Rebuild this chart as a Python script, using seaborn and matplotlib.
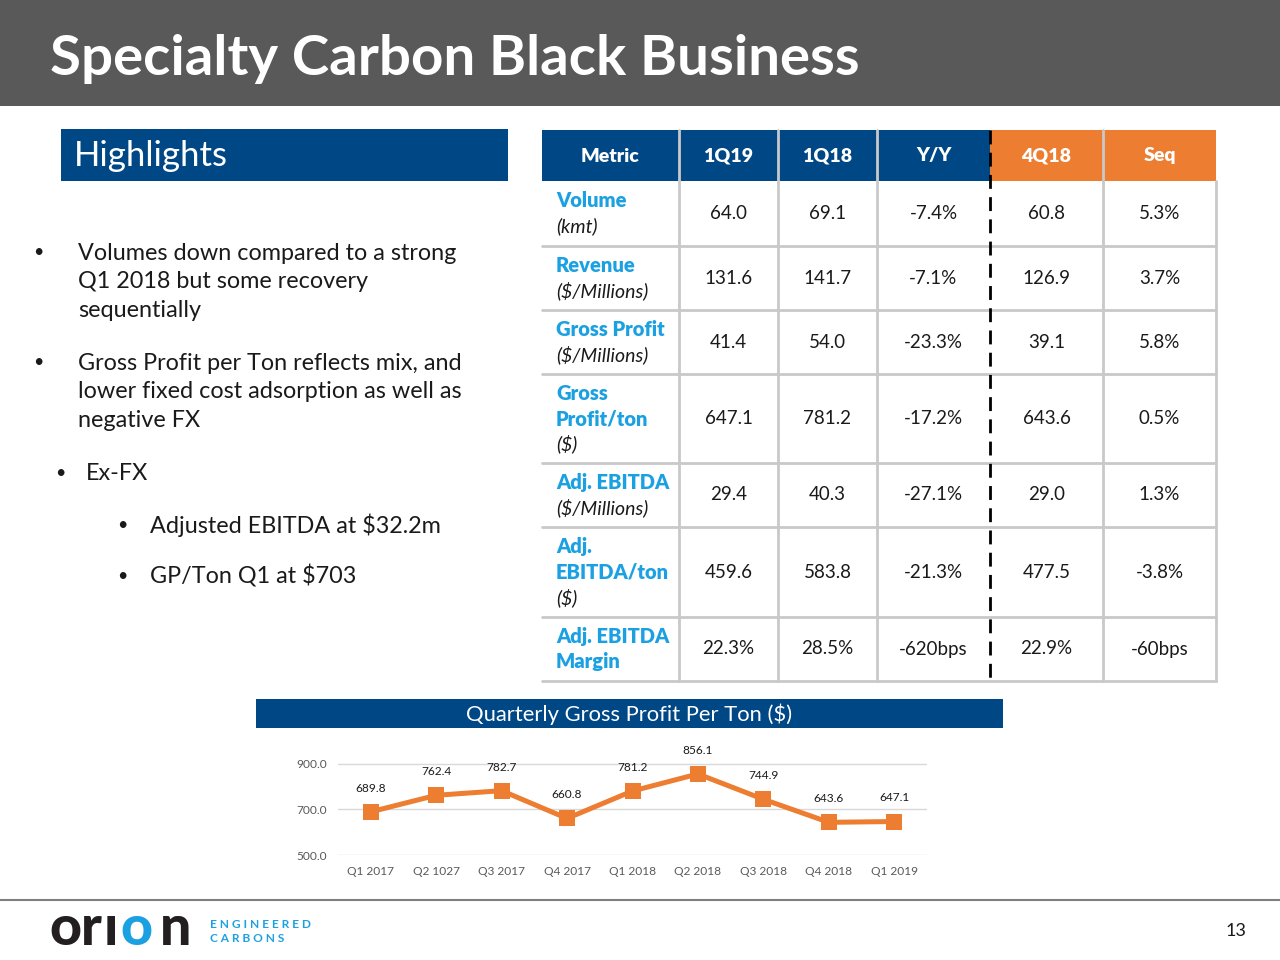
import numpy as np
import pandas as pd
import seaborn as sns
import matplotlib.pyplot as plt
from matplotlib.patches import Rectangle

# chart data
quarters = ['Q1 2017', 'Q2 1027', 'Q3 2017', 'Q4 2017', 'Q1 2018',
            'Q2 2018', 'Q3 2018', 'Q4 2018', 'Q1 2019']
gp_per_ton = [689.8, 762.4, 782.7, 660.8, 781.2, 856.1, 744.9, 643.6, 647.1]

# table data
table_cols = ['Metric', '1Q19', '1Q18', 'Y/Y', '4Q18', 'Seq']
metric_names = [['Volume'], ['Revenue'], ['Gross Profit'], ['Gross', 'Profit/ton'],
                ['Adj. EBITDA'], ['Adj.', 'EBITDA/ton'], ['Adj. EBITDA', 'Margin']]
metric_units = ['(kmt)', '($/Millions)', '($/Millions)', '($)', '($/Millions)', '($)', '']
q1_19 = ['64.0', '131.6', '41.4', '647.1', '29.4', '459.6', '22.3%']
q1_18 = ['69.1', '141.7', '54.0', '781.2', '40.3', '583.8', '28.5%']
yoy = ['-7.4%', '-7.1%', '-23.3%', '-17.2%', '-27.1%', '-21.3%', '-620bps']
q4_18 = ['60.8', '126.9', '39.1', '643.6', '29.0', '477.5', '22.9%']
seq = ['5.3%', '3.7%', '5.8%', '0.5%', '1.3%', '-3.8%', '-60bps']

bullets = ['Volumes down compared to a strong\nQ1 2018 but some recovery\nsequentially',
           'Gross Profit per Ton reflects mix, and\nlower fixed cost adsorption as well as\nnegative FX']

BLUE = '#004785'
ORANGE = '#ED7D31'
CYAN = '#1BA1E2'
DARK = '#1a1a1a'

sns.set_theme(style='white')
plt.rcParams['font.family'] = ['Lato', 'DejaVu Sans']

fig = plt.figure(figsize=(12.8, 9.6), dpi=100)
bg = fig.add_axes([0, 0, 1, 1])
bg.set_xlim(0, 1280)
bg.set_ylim(960, 0)
bg.axis('off')

# title bar
bg.add_patch(Rectangle((0, 0), 1280, 106, color='#595959', lw=0))
bg.text(50, 59, 'Specialty Carbon Black Business', color='white', fontsize=40.6,
        fontweight='bold', va='center', ha='left')

# highlights box
bg.add_patch(Rectangle((61, 129), 447, 52, color=BLUE, lw=0))
bg.text(74, 156, 'Highlights', color='white', fontsize=25, va='center')

# bullets
bg.text(33, 252, '•', fontsize=13, va='center', color=DARK)
bg.text(78, 282, bullets[0], fontsize=16.8, va='center', color=DARK, linespacing=1.45)
bg.text(33, 362, '•', fontsize=13, va='center', color=DARK)
bg.text(78, 392, bullets[1], fontsize=16.8, va='center', color=DARK, linespacing=1.45)
bg.text(55, 473, '•', fontsize=13, va='center', color=DARK)
bg.text(86, 473, 'Ex-FX', fontsize=16.8, va='center', color=DARK)
bg.text(117, 525, '•', fontsize=13, va='center', color=DARK)
bg.text(150, 525, 'Adjusted EBITDA at $32.2m', fontsize=16.8, va='center', color=DARK)
bg.text(117, 576, '•', fontsize=13, va='center', color=DARK)
bg.text(150, 576, 'GP/Ton Q1 at $703', fontsize=16.8, va='center', color=DARK)

# table
col_x = [542, 679, 778, 877, 990, 1103, 1216]
row_y = [130, 181, 246, 310, 374, 463, 527, 617, 681]
for i, name in enumerate(table_cols):
    c = BLUE if i < 4 else ORANGE
    bg.add_patch(Rectangle((col_x[i], row_y[0]), col_x[i + 1] - col_x[i],
                           row_y[1] - row_y[0], color=c, lw=0))
    bg.text((col_x[i] + col_x[i + 1]) / 2, 156, name, color='white', fontsize=14,
            fontweight='heavy', ha='center', va='center')
for y in row_y[2:]:
    bg.plot([542, 1216], [y, y], color='#c9c9c9', lw=2)
for x in [679, 778, 877, 1103]:
    bg.plot([x, x], [row_y[0], row_y[-1]], color='#c9c9c9', lw=2)
bg.plot([1216, 1216], [row_y[1], row_y[-1]], color='#c9c9c9', lw=2)
bg.plot([990, 990], [row_y[0], row_y[-1]], color='black', lw=2, ls=(0, (5, 3)))

value_cols = [q1_19, q1_18, yoy, q4_18, seq]
for r in range(len(metric_names)):
    top, bot = row_y[r + 1], row_y[r + 2]
    mid = (top + bot) / 2
    lines = [(t, True) for t in metric_names[r]]
    if metric_units[r]:
        lines.append((metric_units[r], False))
    n = len(lines)
    for k, (t, bold) in enumerate(lines):
        yy = mid + (k - (n - 1) / 2) * 25.5
        if bold:
            bg.text(556, yy, t, color=CYAN, fontsize=14.5, fontweight='heavy', va='center')
        else:
            bg.text(556, yy, t, color=DARK, fontsize=14, fontstyle='italic', va='center')
    for c, vals in enumerate(value_cols):
        bg.text((col_x[c + 1] + col_x[c + 2]) / 2, mid, vals[r], color=DARK,
                fontsize=13.5, ha='center', va='center')

# chart title bar
bg.add_patch(Rectangle((256, 699), 747, 29, color=BLUE, lw=0))
bg.text(629, 714, 'Quarterly Gross Profit Per Ton ($)', color='white', fontsize=15.8,
        ha='center', va='center')

# footer
bg.plot([0, 1280], [900, 900], color='#7f7f7f', lw=1.5)
bg.text(1246, 931, '13', fontsize=13, ha='right', va='center', color=DARK)
logo_kw = dict(fontsize=40, fontweight='black', ha='center', va='baseline')
bg.text(65, 945, 'o', color='#231f20', **logo_kw)
bg.text(91, 945, 'r', color='#231f20', **logo_kw)
bg.text(111, 945, '\u0131', color='#231f20', **logo_kw)
bg.text(136, 945, 'o', color=CYAN, **logo_kw)
bg.text(176, 945, 'n', color='#231f20', **logo_kw)
bg.text(210, 924, 'E N G I N E E R E D', fontsize=8.6, fontweight='bold', color=CYAN, va='center')
bg.text(210, 939, 'C A R B O N S', fontsize=8.6, fontweight='bold', color=CYAN, va='center')

# line chart
df = pd.DataFrame({'quarter': quarters, 'gp': gp_per_ton})
ax = fig.add_axes([338 / 1280, 1 - 855 / 960, 589 / 1280, 102.4 / 960])
ax.patch.set_alpha(0)
sns.lineplot(data=df, x='quarter', y='gp', ax=ax, sort=False, color=ORANGE,
             linewidth=3.6, marker='s', markersize=11, markeredgewidth=0)
ax.set_xlim(-0.5, len(quarters) - 0.5)
ax.set_ylim(500, 950)
ax.set_yticks([500, 700, 900])
ax.set_yticklabels(['500.0', '700.0', '900.0'])
ax.yaxis.grid(True, color='#d9d9d9', lw=1)
ax.set_axisbelow(True)
sns.despine(ax=ax, left=True, bottom=True)
ax.tick_params(axis='both', length=0, labelsize=8.6, labelcolor='#595959', pad=8)
ax.set_xlabel('')
ax.set_ylabel('')
for i, v in enumerate(gp_per_ton):
    ax.annotate(f'{v:.1f}', (i, v), xytext=(0, 17), textcoords='offset points',
                ha='center', va='center', fontsize=8.6, color=DARK)

fig.savefig('out.png', dpi=100)
